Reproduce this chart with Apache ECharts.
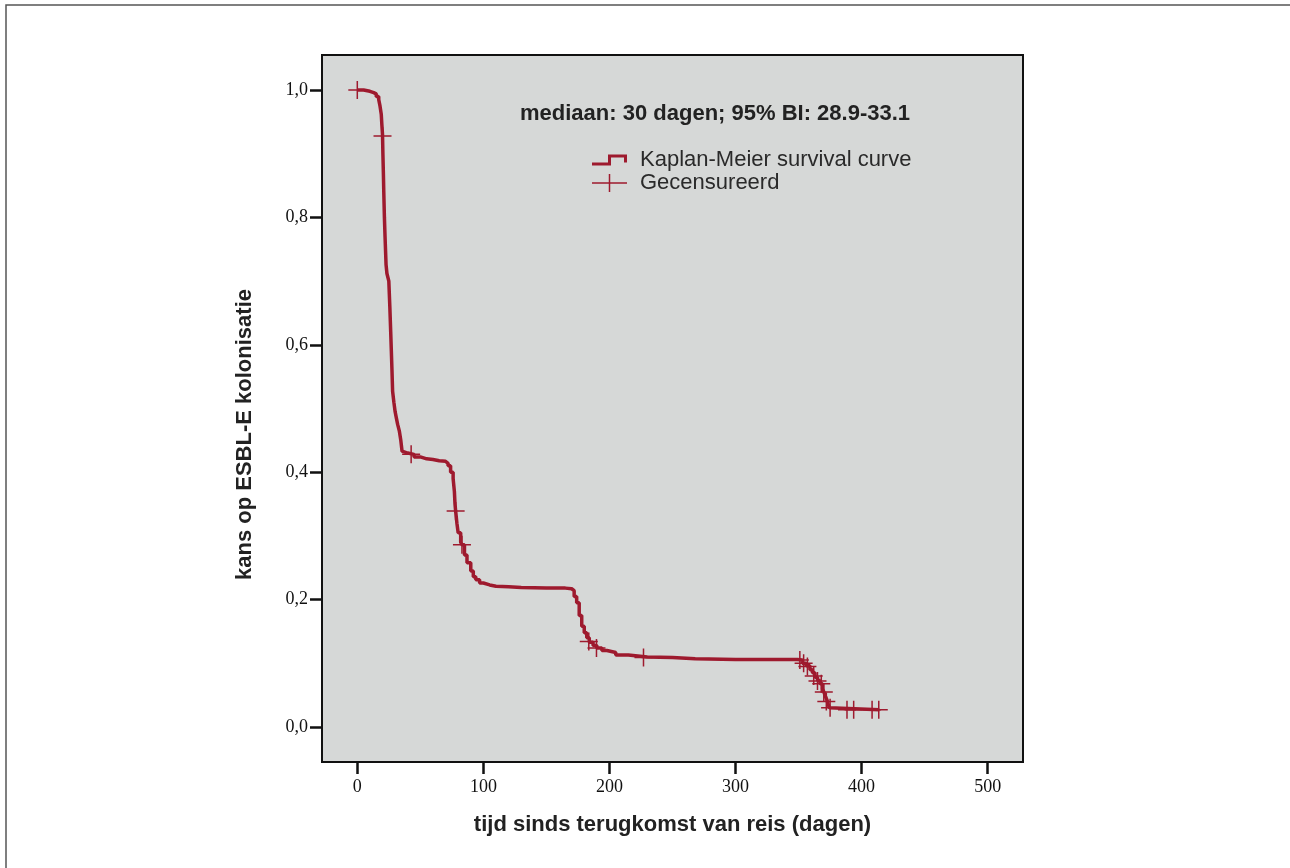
<!DOCTYPE html>
<html>
<head>
<meta charset="utf-8">
<script src="https://cdn.jsdelivr.net/npm/echarts@6/dist/echarts.min.js"></script>
<style>
  html, body { margin: 0; padding: 0; background: #fff; }
  #chart { width: 1290px; height: 868px; }
</style>
</head>
<body>
<div id="chart"></div>
<script>
// Kaplan-Meier curve, values [dagen, kans]
const kmDays = [0, 5, 10, 13, 15, 17, 18, 19, 19.5, 20, 20.3, 20.7, 21, 21.5, 22, 22.8, 23.5, 25, 25.8, 26.5,
  27, 27.5, 28, 29, 30, 31, 32, 33.4, 34.5, 35.5, 37, 40, 45, 50, 55, 60, 65, 70, 72, 74,
  76, 77, 77.5, 78, 79, 80, 82, 83, 85, 87, 90, 92, 94, 97, 100, 105, 110, 120, 130, 150,
  165, 170, 172, 174, 176, 178, 180, 182, 184, 187, 190, 194, 198, 205, 215, 230, 250, 268, 300, 349,
  353, 356, 359, 361, 363, 365, 367, 369, 370, 371.5, 372.6, 373.5, 374.5, 376, 414];
const kmSurv = [1.0, 0.998, 0.996, 0.994, 0.99, 0.985, 0.975, 0.962, 0.945, 0.93, 0.9, 0.868, 0.84, 0.80, 0.77, 0.726, 0.712, 0.70, 0.66, 0.62,
  0.59, 0.56, 0.527, 0.51, 0.495, 0.485, 0.475, 0.464, 0.45, 0.433, 0.43, 0.428, 0.424, 0.421, 0.42, 0.418, 0.417, 0.414, 0.41, 0.40,
  0.39, 0.37, 0.35, 0.339, 0.32, 0.305, 0.29, 0.286, 0.27, 0.258, 0.245, 0.236, 0.231, 0.226, 0.223, 0.221, 0.22, 0.219, 0.218, 0.218,
  0.217, 0.214, 0.205, 0.195, 0.175, 0.158, 0.148, 0.14, 0.133, 0.128, 0.124, 0.12, 0.117, 0.113, 0.11, 0.109, 0.107, 0.106, 0.106, 0.105,
  0.10, 0.096, 0.09, 0.085, 0.078, 0.073, 0.068, 0.06, 0.055, 0.047, 0.042, 0.035, 0.03, 0.027, 0.027];

// gecensureerde waarnemingen
const censDays = [0, 20, 42.7, 78, 83, 183.6, 189.7, 227, 351, 354, 357, 362, 365, 368, 370, 372, 375, 388.4, 393.7, 408.3, 413.6];
const censSurv = [1.0, 0.928, 0.428, 0.339, 0.286, 0.134, 0.124, 0.109, 0.105, 0.100, 0.095, 0.080, 0.072, 0.068, 0.055, 0.040, 0.030, 0.027, 0.027, 0.027, 0.027];

const xTicks = [0, 100, 200, 300, 400, 500];
const yTicks = [0, 0.2, 0.4, 0.6, 0.8, 1.0];

const red = '#9e1a2e';
const plusPath = 'path://M0,8.25 H8.25 V0 H9.75 V8.25 H18 V9.75 H9.75 V18 H8.25 V9.75 H0 Z';
const plusLegend = 'path://M0,8.25 H16.75 V0 H18.25 V8.25 H35 V9.75 H18.25 V18 H16.75 V9.75 H0 Z';
const stepLegend = 'path://M0,8 H16 V0 H35 V8 H32 V3 H19 V11 H0 Z';

const chart = echarts.init(document.getElementById('chart'));

const option = {
  backgroundColor: '#fff',
  animation: false,
  title: {
    text: 'mediaan: 30 dagen; 95% BI: 28.9-33.1',
    left: 520,
    top: 103,
    padding: 0,
    textStyle: { fontFamily: 'Liberation Sans', fontSize: 22, fontWeight: 'bold', color: '#222' }
  },
  legend: [
    {
      left: 592, top: 149, padding: 0,
      itemWidth: 35, itemHeight: 11,
      data: [{ name: 'Kaplan-Meier survival curve', icon: stepLegend, itemStyle: { color: red, borderWidth: 0 } }],
      textStyle: { fontFamily: 'Liberation Sans', fontSize: 22, color: '#2a2a2a', padding: [0, 0, 0, 8] }
    },
    {
      left: 592, top: 172, padding: 0,
      itemWidth: 35, itemHeight: 18,
      data: [{ name: 'Gecensureerd', icon: plusLegend, itemStyle: { color: red, borderWidth: 0 } }],
      textStyle: { fontFamily: 'Liberation Sans', fontSize: 22, color: '#2a2a2a', padding: [0, 0, 0, 8] }
    }
  ],
  graphic: [
    {
      type: 'rect',
      shape: { x: 6, y: 5, width: 1300, height: 900 },
      style: { fill: 'none', stroke: '#555', lineWidth: 1.5 },
      silent: true
    }
  ],
  grid: {
    left: 322, top: 55, right: 267, bottom: 106,
    show: true,
    backgroundColor: '#d6d8d7',
    borderColor: '#111',
    borderWidth: 2
  },
  xAxis: {
    type: 'value',
    min: -28,
    max: 528,
    name: 'tijd sinds terugkomst van reis (dagen)',
    nameLocation: 'middle',
    nameGap: 52,
    nameTextStyle: { fontFamily: 'Liberation Sans', fontSize: 22, fontWeight: 'bold', color: '#222' },
    axisLine: { onZero: false, lineStyle: { color: '#111', width: 2 } },
    axisTick: { show: true, length: 12, customValues: xTicks, lineStyle: { color: '#111', width: 2.5 } },
    axisLabel: {
      customValues: xTicks, margin: 16,
      fontFamily: 'Liberation Serif', fontSize: 18, color: '#111'
    },
    splitLine: { show: false }
  },
  yAxis: {
    type: 'value',
    min: -0.055,
    max: 1.055,
    name: 'kans op ESBL-E kolonisatie',
    nameLocation: 'middle',
    nameGap: 66,
    nameTextStyle: { fontFamily: 'Liberation Sans', fontSize: 22, fontWeight: 'bold', color: '#222', padding: [0, 52, 0, 0] },
    axisLine: { onZero: false, lineStyle: { color: '#111', width: 2 } },
    axisTick: { show: true, length: 12, customValues: yTicks, lineStyle: { color: '#111', width: 2.5 } },
    axisLabel: {
      customValues: yTicks, margin: 14,
      fontFamily: 'Liberation Serif', fontSize: 18, color: '#111',
      formatter: v => v.toFixed(1).replace('.', ',')
    },
    splitLine: { show: false }
  },
  series: [
    {
      name: 'Kaplan-Meier survival curve',
      type: 'line',
      step: 'end',
      symbol: 'none',
      data: kmDays.map((d, i) => [d, kmSurv[i]]),
      lineStyle: { color: red, width: 3.5 },
      itemStyle: { color: red },
      z: 3
    },
    {
      name: 'Gecensureerd',
      type: 'scatter',
      symbol: plusPath,
      symbolSize: 18,
      data: censDays.map((d, i) => [d, censSurv[i]]),
      itemStyle: { color: red, opacity: 1 },
      z: 4
    }
  ]
};

chart.setOption(option);
</script>
</body>
</html>
